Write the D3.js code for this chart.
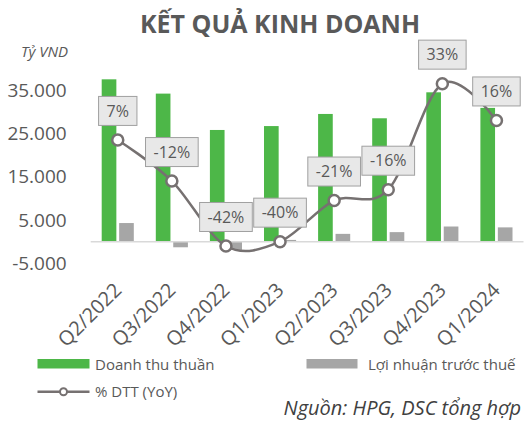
<!DOCTYPE html>
<html>
<head>
<meta charset="utf-8">
<script src="https://cdn.jsdelivr.net/npm/d3@7"></script>
<style>
  body { margin: 0; background: #fff; }
  text { font-family: "Open Sans", sans-serif; }
</style>
</head>
<body>
<div id="wrapper"></div>
<script>
// data
const quarters = ["Q2/2022", "Q3/2022", "Q4/2022", "Q1/2023", "Q2/2023", "Q3/2023", "Q4/2023", "Q1/2024"]
const revenue = [37500, 34200, 25800, 26700, 29500, 28500, 34500, 30900]
const profitBeforeTax = [4300, -1300, -1900, 400, 1800, 2200, 3500, 3300]
const revenueYoY = [7, -12, -42, -40, -21, -16, 33, 16]
const yTicks = [-5000, 5000, 15000, 25000, 35000]

function drawChart() {
  const dimensions = {
    width: 527,
    height: 421,
    margin: { top: 68.5, right: 3.5, bottom: 157.7, left: 90.7 },
  }
  dimensions.boundedWidth = dimensions.width - dimensions.margin.left - dimensions.margin.right
  dimensions.boundedHeight = dimensions.height - dimensions.margin.top - dimensions.margin.bottom

  const textColor = "#595959"
  const green = "#4db748"
  const grey = "#a6a6a6"
  const lineColor = "#767171"

  const wrapper = d3.select("#wrapper")
    .append("svg")
    .attr("width", dimensions.width)
    .attr("height", dimensions.height)

  // title + unit
  wrapper.append("text")
    .attr("x", 280)
    .attr("y", 33)
    .attr("text-anchor", "middle")
    .attr("fill", textColor)
    .style("font-size", "25px")
    .style("font-weight", "bold")
    .text("KẾT QUẢ KINH DOANH")

  wrapper.append("text")
    .attr("x", 21)
    .attr("y", 56.5)
    .attr("fill", textColor)
    .style("font-size", "15px")
    .style("font-style", "italic")
    .text("Tỷ VND")

  const bounds = wrapper.append("g")
    .attr("transform", `translate(${dimensions.margin.left}, ${dimensions.margin.top})`)

  // scales
  const xScale = d3.scaleBand()
    .domain(quarters)
    .range([0, dimensions.boundedWidth])

  const subScale = d3.scaleBand()
    .domain(["rev", "pbt"])
    .range([11, xScale.bandwidth() - 11])
    .paddingInner(0.16)

  const yScale = d3.scaleLinear()
    .domain([-5000, 40000])
    .range([dimensions.boundedHeight, 0])

  const y2Scale = d3.scaleLinear()
    .domain([-50, 40])
    .range([dimensions.boundedHeight, 0])

  // y axis (labels only)
  const yAxisGenerator = d3.axisLeft()
    .scale(yScale)
    .tickValues(yTicks)
    .tickFormat(d => d3.format(",")(d).replace(/,/g, ".").replace("−", "-"))
    .tickSize(0)
    .tickPadding(24)

  const yAxis = bounds.append("g")
    .call(yAxisGenerator)
  yAxis.select(".domain").remove()
  yAxis.selectAll("text")
    .attr("fill", textColor)
    .style("font-size", "19px")
    .style("font-family", "'Open Sans', sans-serif")

  // bars
  const groups = bounds.selectAll(".group")
    .data(quarters)
    .enter().append("g")
      .attr("transform", d => `translate(${xScale(d)}, 0)`)

  groups.append("rect")
    .attr("x", subScale("rev"))
    .attr("width", subScale.bandwidth())
    .attr("y", (d, i) => yScale(Math.max(0, revenue[i])))
    .attr("height", (d, i) => Math.abs(yScale(revenue[i]) - yScale(0)))
    .attr("fill", green)

  groups.append("rect")
    .attr("x", subScale("pbt"))
    .attr("width", subScale.bandwidth())
    .attr("y", (d, i) => yScale(Math.max(0, profitBeforeTax[i])))
    .attr("height", (d, i) => Math.abs(yScale(profitBeforeTax[i]) - yScale(0)))
    .attr("fill", grey)

  // zero line
  bounds.append("line")
    .attr("x1", 0)
    .attr("x2", dimensions.boundedWidth)
    .attr("y1", yScale(0))
    .attr("y2", yScale(0))
    .attr("stroke", "#d9d9d9")
    .attr("stroke-width", 1.5)

  // x axis labels
  const xAxisGenerator = d3.axisBottom()
    .scale(xScale)
    .tickSize(0)
    .tickPadding(0)

  const xAxis = bounds.append("g")
    .attr("transform", `translate(0, ${dimensions.boundedHeight})`)
    .call(xAxisGenerator)
  xAxis.select(".domain").remove()
  xAxis.selectAll("text")
    .attr("y", 0)
    .attr("dy", 0)
    .attr("text-anchor", "end")
    .attr("transform", "translate(5, 28) rotate(-45)")
    .attr("fill", textColor)
    .style("font-size", "20px")
    .style("font-family", "'Open Sans', sans-serif")

  // YoY line
  const lineGenerator = d3.line()
    .x((d, i) => xScale(quarters[i]) + xScale.bandwidth() / 2)
    .y(d => y2Scale(d))
    .curve(d3.curveCardinal)

  bounds.append("path")
    .attr("d", lineGenerator(revenueYoY))
    .attr("fill", "none")
    .attr("stroke", lineColor)
    .attr("stroke-width", 2.5)

  bounds.selectAll(".dot")
    .data(revenueYoY)
    .enter().append("circle")
      .attr("cx", (d, i) => xScale(quarters[i]) + xScale.bandwidth() / 2)
      .attr("cy", d => y2Scale(d))
      .attr("r", 5.5)
      .attr("fill", "#fff")
      .attr("stroke", lineColor)
      .attr("stroke-width", 2.5)

  // data labels
  const labels = bounds.selectAll(".label")
    .data(revenueYoY)
    .enter().append("g")
      .attr("transform", (d, i) => `translate(${xScale(quarters[i]) + xScale.bandwidth() / 2}, ${y2Scale(d) - 29})`)

  const labelText = labels.append("text")
    .attr("text-anchor", "middle")
    .attr("dy", "0.36em")
    .attr("fill", textColor)
    .style("font-size", "16px")
    .text(d => d + "%")

  labelText.each(function() {
    const w = this.getComputedTextLength()
    d3.select(this.parentNode).insert("rect", "text")
      .attr("x", -w / 2 - 8)
      .attr("y", -14.5)
      .attr("width", w + 16)
      .attr("height", 29)
      .attr("fill", "#e8e8e8")
      .attr("stroke", "#a0a0a0")
      .attr("stroke-width", 1)
  })

  // legend
  const legend = wrapper.append("g")
  legend.append("rect")
    .attr("x", 37.5).attr("y", 359).attr("width", 52).attr("height", 9.5)
    .attr("fill", green)
  legend.append("text")
    .attr("x", 95).attr("y", 369.5)
    .attr("fill", textColor)
    .style("font-size", "15px")
    .text("Doanh thu thuần")

  legend.append("rect")
    .attr("x", 306.5).attr("y", 359).attr("width", 51).attr("height", 9.5)
    .attr("fill", grey)
  legend.append("text")
    .attr("x", 368).attr("y", 369.5)
    .attr("fill", textColor)
    .style("font-size", "15px")
    .text("Lợi nhuận trước thuế")

  legend.append("line")
    .attr("x1", 37.5).attr("x2", 89.5).attr("y1", 391.7).attr("y2", 391.7)
    .attr("stroke", lineColor).attr("stroke-width", 2.5)
  legend.append("circle")
    .attr("cx", 63.5).attr("cy", 391.7).attr("r", 3.5)
    .attr("fill", "#fff").attr("stroke", lineColor).attr("stroke-width", 2)
  legend.append("text")
    .attr("x", 95).attr("y", 397)
    .attr("fill", textColor)
    .style("font-size", "15px")
    .text("% DTT (YoY)")

  // source
  wrapper.append("text")
    .attr("x", 521)
    .attr("y", 415)
    .attr("text-anchor", "end")
    .attr("fill", "#404040")
    .style("font-size", "20px")
    .style("font-style", "italic")
    .text("Nguồn: HPG, DSC tổng hợp")
}

drawChart()
</script>
</body>
</html>
